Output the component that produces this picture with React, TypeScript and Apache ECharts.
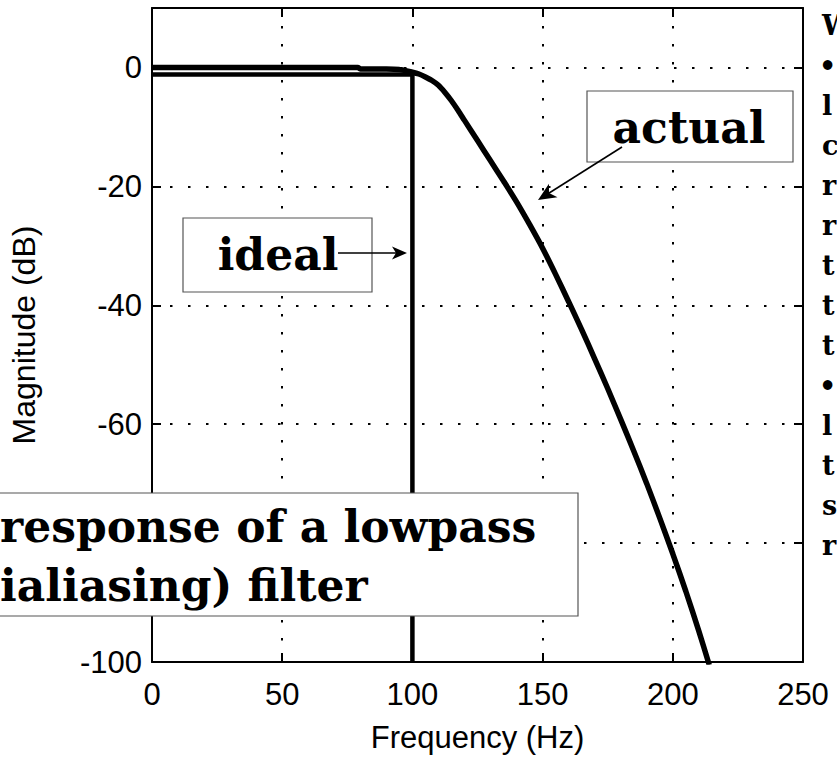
import React, { useEffect, useRef } from 'react';
import * as echarts from 'echarts';

// Frequency response of the actual lowpass (antialiasing) filter
const freqHz = [0, 20, 40, 60, 79, 80, 90, 95, 100, 102.5, 105, 107.5, 110, 112.5, 115, 117.5, 120, 125, 130, 135, 140, 145, 150, 155, 160, 165, 170, 175, 180, 185, 190, 195, 200, 205, 210, 214];
const actualDb = [0, 0, 0, 0, 0, -0.25, -0.25, -0.35, -0.8, -1.1, -1.6, -2.2, -3.0, -4.2, -5.6, -7.2, -8.9, -12.3, -15.7, -19.1, -22.6, -26.4, -30.4, -34.8, -39.4, -44.1, -49.0, -54.0, -59.2, -64.5, -70.0, -75.8, -81.8, -88.1, -94.8, -100.5];

// Ideal (brick-wall) response
const idealHz = [0, 100, 100];
const idealDb = [-1.2, -1.2, -100];

// Axis ticks
const xTicks = { min: 0, max: 250, interval: 50 };
const yTicks = { min: -100, max: 10, interval: 20 };
const hiddenYLabels = [-80]; // covered by the caption box in the reference

// Cut-off first letters of the neighbouring text column
const sideLetters = ['W', '•', 'l', 'c', 'r', 'r', 't', 't', 't', '•', 'l', 't', 's', 'r'];

const SANS = '"Liberation Sans", Arial, sans-serif';
const SERIF = '"DejaVu Serif", serif';

function arrowHead(sx: number, sy: number, tx: number, ty: number, len: number, half: number, notch: number) {
  const dx = tx - sx;
  const dy = ty - sy;
  const L = Math.hypot(dx, dy);
  const ux = dx / L;
  const uy = dy / L;
  const nx = -uy;
  const ny = ux;
  const bx = tx - ux * len;
  const by = ty - uy * len;
  const mx = tx - ux * (len - notch);
  const my = ty - uy * (len - notch);
  return [
    [tx, ty],
    [bx + nx * half, by + ny * half],
    [mx, my],
    [bx - nx * half, by - ny * half],
  ];
}

export default function App() {
  const ref = useRef<HTMLDivElement>(null);

  useEffect(() => {
    document.body.style.margin = '0';
    const chart = echarts.init(ref.current!, null, { renderer: 'svg' });

    const actualData = freqHz.map((f, i) => [f, actualDb[i]]);
    const idealData = idealHz.map((f, i) => [f, idealDb[i]]);

    const axisLineStyle = { color: '#000', width: 2 };
    const tickStyle = { show: true, inside: true, length: 9, lineStyle: { color: '#000', width: 2 } };
    const gridDots = { show: true, lineStyle: { color: '#000', width: 2, type: [2.5, 15.5] as any } };

    const idealArrow = { sx: 338, sy: 253, tx: 407, ty: 253 };
    const actualArrow = { sx: 622, sy: 147, tx: 538, ty: 200 };

    const textStyle = (text: string, size: number, align: string) => ({
      text, font: `bold ${size}px ${SERIF}`, fill: '#000',
      textAlign: align, textVerticalAlign: 'middle', align, verticalAlign: 'middle',
    });

    const graphic: any[] = [
      // ideal label
      { type: 'rect', z: 100, shape: { x: 183, y: 218, width: 189, height: 74 }, style: { fill: '#fff', stroke: '#555', lineWidth: 1.2 } },
      { type: 'text', z: 101, x: 278, y: 254, style: textStyle('ideal', 44, 'center') },
      { type: 'line', z: 102, shape: { x1: idealArrow.sx, y1: idealArrow.sy, x2: idealArrow.tx - 10, y2: idealArrow.ty }, style: { stroke: '#000', lineWidth: 1.6 } },
      { type: 'polygon', z: 102, shape: { points: arrowHead(idealArrow.sx, idealArrow.sy, idealArrow.tx, idealArrow.ty, 15, 6.5, 4) }, style: { fill: '#000' } },
      // actual label
      { type: 'rect', z: 100, shape: { x: 587, y: 91, width: 206, height: 71 }, style: { fill: '#fff', stroke: '#555', lineWidth: 1.2 } },
      { type: 'text', z: 101, x: 689, y: 127, style: textStyle('actual', 44, 'center') },
      { type: 'line', z: 102, shape: { x1: actualArrow.sx, y1: actualArrow.sy, x2: actualArrow.tx + 8, y2: actualArrow.ty - 5 }, style: { stroke: '#000', lineWidth: 1.6 } },
      { type: 'polygon', z: 102, shape: { points: arrowHead(actualArrow.sx, actualArrow.sy, actualArrow.tx, actualArrow.ty, 18, 8, 5) }, style: { fill: '#000' } },
      // big caption box
      { type: 'rect', z: 100, shape: { x: -10, y: 493, width: 588, height: 123 }, style: { fill: '#fff', stroke: '#555', lineWidth: 1.2 } },
      { type: 'text', z: 101, x: 0, y: 526, style: textStyle('response of a lowpass', 44, 'left') },
      { type: 'text', z: 101, x: 0, y: 585, style: textStyle('ialiasing) filter', 44, 'left') },
    ];

    sideLetters.forEach((ch, i) => {
      graphic.push({
        type: 'text', z: 101, x: ch === '•' ? 819 : 822, y: 25 + i * 40,
        style: textStyle(ch, 27, 'left'),
      });
    });

    chart.setOption({
      animation: false,
      backgroundColor: '#fff',
      grid: { left: 150, top: 8, width: 653, height: 654, containLabel: false },
      xAxis: [
        {
          type: 'value', position: 'bottom', min: xTicks.min, max: xTicks.max, interval: xTicks.interval,
          name: 'Frequency (Hz)', nameLocation: 'middle', nameGap: 60,
          nameTextStyle: { fontFamily: SANS, fontSize: 31, color: '#000' },
          axisLine: { show: true, onZero: false, lineStyle: axisLineStyle },
          axisTick: tickStyle,
          axisLabel: { margin: 17, fontFamily: SANS, fontSize: 31, color: '#000' },
          splitLine: gridDots,
        },
        {
          type: 'value', position: 'top', min: xTicks.min, max: xTicks.max, interval: xTicks.interval,
          axisLine: { show: true, onZero: false, lineStyle: axisLineStyle },
          axisTick: tickStyle, axisLabel: { show: false }, splitLine: { show: false },
        },
      ],
      yAxis: [
        {
          type: 'value', position: 'left', min: yTicks.min, max: yTicks.max, interval: yTicks.interval,
          name: 'Magnitude (dB)', nameLocation: 'middle', nameGap: 112,
          nameTextStyle: { fontFamily: SANS, fontSize: 32, color: '#000' },
          axisLine: { show: true, onZero: false, lineStyle: axisLineStyle },
          axisTick: tickStyle,
          axisLabel: {
            margin: 10, fontFamily: SANS, fontSize: 31, color: '#000', showMaxLabel: false,
            formatter: (v: number) => (hiddenYLabels.includes(v) || v > 0 ? '' : String(v)),
          },
          splitLine: gridDots,
        },
        {
          type: 'value', position: 'right', min: yTicks.min, max: yTicks.max, interval: yTicks.interval,
          axisLine: { show: true, onZero: false, lineStyle: axisLineStyle },
          axisTick: tickStyle, axisLabel: { show: false }, splitLine: { show: false },
        },
      ],
      series: [
        {
          name: 'ideal', type: 'line', data: idealData, showSymbol: false, symbol: 'none',
          lineStyle: { color: '#000', width: 4.5 }, z: 3,
        },
        {
          name: 'actual', type: 'line', data: actualData, showSymbol: false, symbol: 'none', smooth: 0.3,
          lineStyle: { color: '#000', width: 5.5 }, z: 4,
        },
      ],
      graphic,
    });

    return () => chart.dispose();
  }, []);

  return <div ref={ref} style={{ width: 837, height: 760 }} />;
}
